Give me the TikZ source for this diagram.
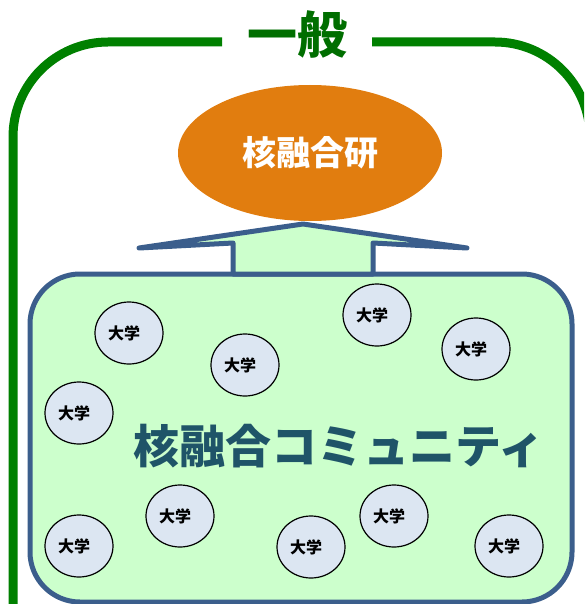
\documentclass[tikz,border=0pt]{standalone}
\usepackage{fontspec}
\setmainfont{Noto Sans CJK JP}
\usetikzlibrary{shapes.geometric}
\definecolor{framegreen}{RGB}{0,128,0}
\definecolor{titlegreen}{RGB}{0,110,0}
\definecolor{kenorange}{RGB}{225,125,15}
\definecolor{boxblue}{RGB}{59,94,140}
\definecolor{boxgreen}{RGB}{204,255,204}
\definecolor{unifill}{RGB}{220,230,242}
\definecolor{commtext}{RGB}{31,84,104}

\begin{document}
\begin{tikzpicture}[x=1pt,y=-1pt,
    uni/.style={ellipse, draw=black, line width=1.2pt, fill=unifill,
        minimum width=68pt, minimum height=62pt, inner sep=0pt,
        font=\bfseries\fontsize{16}{16}\selectfont}]
    \useasboundingbox (0,0) rectangle (584,604);
    \clip (0,0) rectangle (584,604);
    % outer frame
    \draw [framegreen, line width=9pt, rounded corners=95pt] (13,640) -- (13,42) -- (222,42);
    \draw [framegreen, line width=9pt, rounded corners=95pt] (372,42) -- (590,42) -- (590,640);
    \node (general) [titlegreen, font=\bfseries\fontsize{50}{50}\selectfont] at (297,34) {一般};
    % institute
    \node (ken) [ellipse, fill=kenorange, minimum width=264pt, minimum height=136pt,
        text=white, font=\bfseries\fontsize{34}{34}\selectfont] at (310,153) {核融合研};
    % community box and arrow
    \draw [boxblue, fill=boxgreen, line width=5pt, rounded corners=50pt] (30,274) rectangle (572,602);
    \draw [boxblue, fill=boxgreen, line width=5pt, line join=round]
        (233,274) -- (233,243) -- (139,248) -- (303,224) -- (467,248) -- (373,243) -- (373,274) -- cycle;
    \node (community) [commtext, font=\bfseries\fontsize{46}{46}\selectfont] at (339,446) {核融合コミュニティ};
    % universities
    \foreach \px/\py [count=\i] in {129/333, 245/365, 377/315, 476/349, 79/413,
                                    180/516, 79/546, 311/547, 394/516, 509/546}
    {
        \node (uni\i) [uni] at (\px,\py) {大学\hspace*{10pt}};
    }
\end{tikzpicture}
\end{document}
